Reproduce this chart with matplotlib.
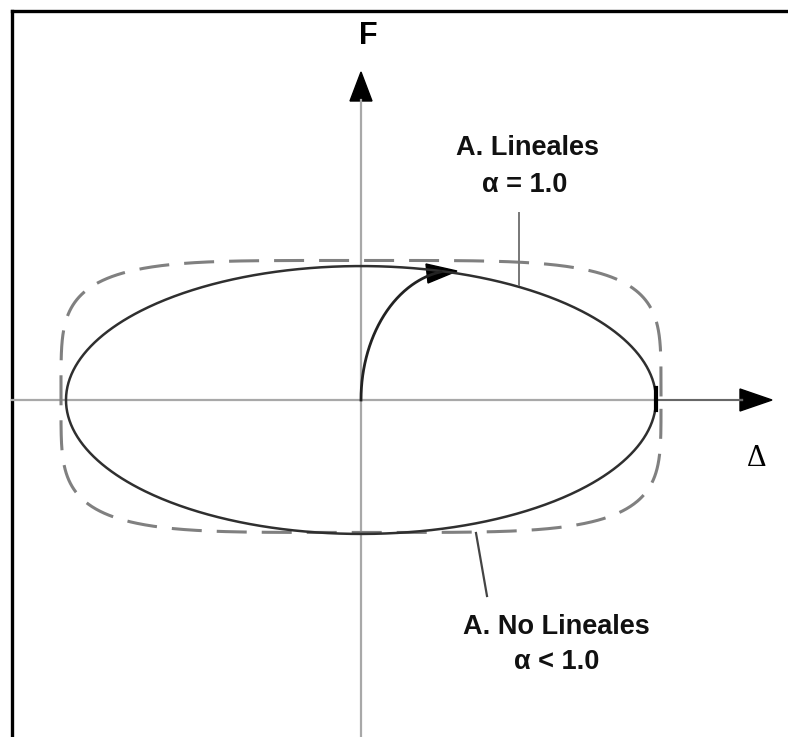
import numpy as np
import matplotlib
matplotlib.use("Agg")
import matplotlib.pyplot as plt
from matplotlib.patches import Polygon

# ---- data (units: ellipse semi-major axis = 1) ----
ellipse_axes = [1.0, 0.454]          # linear hysteresis (alpha = 1.0)
superellipse_axes = [1.017, 0.461]   # non-linear hysteresis (alpha < 1.0)
superellipse_center_y = 0.012
superellipse_exp = 4.5
curve_arrow_axes = [0.322, 0.44]     # initial loading branch
label_lin = ["A. Lineales", "α = 1.0"]
label_nonlin = ["A. No Lineales", "α < 1.0"]
axis_labels = ["F", "Δ"]

W, H = 788, 737
S = 295.0  # px per unit
OX, OY = 361.0, 400.0

def dx(px):
    return (px - OX) / S

def dy(py):
    return (OY - py) / S

fig = plt.figure(figsize=(W / 100, H / 100), dpi=100)
ax = fig.add_axes([0, 0, 1, 1])
ax.set_xlim(dx(0), dx(W))
ax.set_ylim(dy(H), dy(0))
ax.axis("off")

# frame (left and top lines)
ax.plot([dx(12), dx(12)], [dy(H + 5), dy(11)], color="black", lw=2.4, solid_capstyle="projecting")
ax.plot([dx(12), dx(W + 5)], [dy(11), dy(11)], color="black", lw=2.4, solid_capstyle="projecting")

# axes lines
axcol = "#a8a8a8"
ax.plot([0, 0], [dy(H + 5), dy(100)], color=axcol, lw=1.6)
ax.plot([dx(12), dx(742)], [0, 0], color=axcol, lw=1.6)
ax.plot([dx(655), dx(742)], [0, 0], color="#666666", lw=1.4)
# arrowheads
ax.add_patch(Polygon([[dx(350), dy(101)], [dx(372), dy(101)], [dx(361), dy(72)]],
                     closed=True, color="black"))
ax.add_patch(Polygon([[dx(740), dy(389)], [dx(740), dy(411)], [dx(772), dy(400)]],
                     closed=True, color="black"))

# superellipse (dashed)
t = np.linspace(0, 2 * np.pi, 800)
n = superellipse_exp
a2, b2 = superellipse_axes
xs = a2 * np.sign(np.cos(t)) * np.abs(np.cos(t)) ** (2 / n)
ys = b2 * np.sign(np.sin(t)) * np.abs(np.sin(t)) ** (2 / n) + superellipse_center_y
lw_d = 2.2
ax.plot(xs, ys, color="#808080", lw=lw_d, dashes=(21.6 / lw_d, 10.8 / lw_d))

# ellipse (solid)
a1, b1 = ellipse_axes
ax.plot(a1 * np.cos(t), b1 * np.sin(t), color="#2f2f2f", lw=1.8)
# mark at right end
ax.plot([a1, a1], [dy(388), dy(410)], color="black", lw=3.0)

# curved loading arrow
ca, cb = curve_arrow_axes
tt = np.linspace(0, np.pi / 2, 200)
cx = ca - ca * np.cos(tt)
cy = cb * np.sin(tt)
ax.plot(cx[:-20], cy[:-20], color="#222222", lw=2.0)
ax.add_patch(Polygon([[dx(426), dy(264)], [dx(428), dy(283)], [dx(457), dy(271)]],
                     closed=True, color="black"))

# annotation leader lines
ax.plot([dx(519), dx(519)], [dy(213), dy(285)], color="#777777", lw=1.4)
ax.plot([dx(476), dx(487)], [dy(533), dy(596)], color="#444444", lw=1.6)

# texts
bold = dict(family=["Liberation Sans", "DejaVu Sans"], fontweight="bold", color="#111111",
            ha="center", va="center", fontsize=19.5)
ax.text(dx(527), dy(148), label_lin[0], **bold)
ax.text(dx(525), dy(185), label_lin[1], **bold)
ax.text(dx(556), dy(627), label_nonlin[0], **bold)
ax.text(dx(557), dy(662), label_nonlin[1], **bold)
ax.text(dx(368), dy(36), axis_labels[0], family=["Liberation Sans", "DejaVu Sans"],
        fontweight="bold", fontsize=22, ha="center", va="center", color="black")
ax.text(dx(757), dy(459), axis_labels[1], family=["Liberation Serif", "DejaVu Serif"],
        fontsize=22, ha="center", va="center", color="black")

fig.savefig("out.png", dpi=100)
